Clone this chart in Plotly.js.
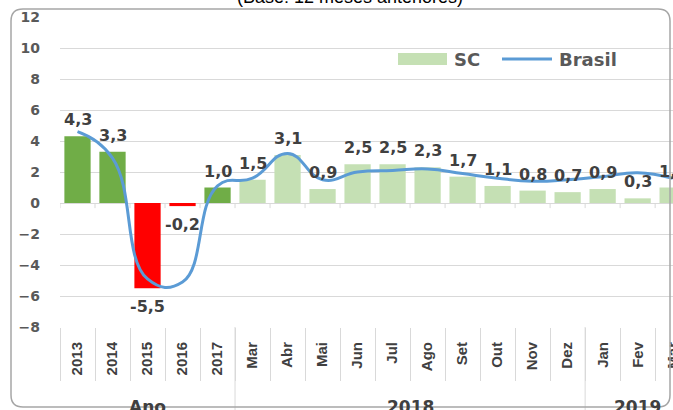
<!DOCTYPE html>
<html>
<head>
<meta charset="utf-8">
<script src="https://cdn.plot.ly/plotly-3.0.1.min.js"></script>
<style>html,body{margin:0;padding:0;background:#fff;}#chart{width:673px;height:410px;}</style>
</head>
<body>
<div id="chart"></div>
<script>
// ---- data ----
const categories = ['2013','2014','2015','2016','2017','Mar','Abr','Mai','Jun','Jul','Ago','Set','Out','Nov','Dez','Jan','Fev','Mar'];
const groups = ['Ano','Ano','Ano','Ano','Ano','2018','2018','2018','2018','2018','2018','2018','2018','2018','2018','2019','2019','2019'];
const scValues = [4.3, 3.3, -5.5, -0.2, 1.0, 1.5, 3.1, 0.9, 2.5, 2.5, 2.3, 1.7, 1.1, 0.8, 0.7, 0.9, 0.3, 1.0];
const brasilValues = [4.6, 2.9, -4.9, -5.1, 1.1, 1.6, 3.2, 1.5, 2.0, 2.1, 2.2, 1.9, 1.6, 1.4, 1.5, 1.7, 1.95, 1.6];
const titleText = '(Base: 12 meses anteriores)';
const seriesNames = ['SC', 'Brasil'];

// ---- derived ----
const idx = categories.map((_, i) => i);
const labels = scValues.map(v => v.toFixed(1).replace('.', ','));
const barColors = scValues.map((v, i) => groups[i] === 'Ano' ? (v < 0 ? '#ff0000' : '#70ad47') : '#c5e0b4');
const boundaries = categories.map((_, i) => i - 0.5).concat([categories.length - 0.5]);

// group spans
const groupSpans = [];
groups.forEach((g, i) => {
  const last = groupSpans[groupSpans.length - 1];
  if (last && last.name === g) last.end = i; else groupSpans.push({name: g, start: i, end: i});
});

const labelFont = {family: 'DejaVu Sans', size: 16, color: '#404040', weight: 'bold'};
const annotations = scValues.map((v, i) => ({
  x: i, y: v, xref: 'x', yref: 'y', text: '<b>' + labels[i] + '</b>', showarrow: false,
  yanchor: v >= 0 ? 'bottom' : 'top', yshift: v >= 0 ? 5 : -7, font: labelFont
}));
groupSpans.forEach(s => annotations.push({
  x: (s.start + s.end) / 2, y: -0.218, xref: 'x', yref: 'paper', yanchor: 'top',
  text: '<b>' + s.name + '</b>', showarrow: false,
  font: {family: 'DejaVu Sans', size: 17, color: '#404040'}
}));
annotations.push({
  x: (350 - 60) / 613, y: (327 - 9) / 310, xref: 'paper', yref: 'paper', xanchor: 'center', yanchor: 'bottom',
  text: titleText, showarrow: false, font: {family: 'Liberation Sans', size: 18, color: '#000'}
});
// legend texts
annotations.push({x: (452 - 60) / 613, y: (327 - 59) / 310, xref: 'paper', yref: 'paper', xanchor: 'left', yanchor: 'middle',
  text: '<b>' + seriesNames[0] + '</b>', showarrow: false, font: {family: 'DejaVu Sans', size: 18, color: '#595959'}});
annotations.push({x: (557 - 60) / 613, y: (327 - 59) / 310, xref: 'paper', yref: 'paper', xanchor: 'left', yanchor: 'middle',
  text: '<b>' + seriesNames[1] + '</b>', showarrow: false, font: {family: 'DejaVu Sans', size: 18, color: '#595959'}});

const shapes = [];
// zero-axis small ticks
boundaries.forEach(b => shapes.push({type: 'line', xref: 'x', yref: 'y', x0: b, x1: b, y0: 0, y1: -0.33, line: {color: '#d9d9d9', width: 1}}));
// group dividers
groupSpans.slice(1).forEach(s => shapes.push({type: 'line', xref: 'x', yref: 'paper', x0: s.start - 0.5, x1: s.start - 0.5, y0: 0, y1: -0.4, line: {color: '#d9d9d9', width: 1}}));
// legend swatches
shapes.push({type: 'rect', xref: 'paper', yref: 'paper', x0: (398 - 60) / 613, x1: (447 - 60) / 613, y0: (327 - 65) / 310, y1: (327 - 53) / 310, fillcolor: '#c5e0b4', line: {width: 0}});
shapes.push({type: 'line', xref: 'paper', yref: 'paper', x0: (502 - 60) / 613, x1: (552 - 60) / 613, y0: (327 - 59) / 310, y1: (327 - 59) / 310, line: {color: '#5b9bd5', width: 3}});
// chart border (rounded)
(function () {
  const px = X => (X - 60) / 613, py = Y => (327 - Y) / 310;
  const L = 11, R = 670, T = 9, B = 407, r = 12;
  const d = `M${px(L + r)},${py(T)} L${px(R - r)},${py(T)} Q${px(R)},${py(T)} ${px(R)},${py(T + r)} L${px(R)},${py(B - r)} Q${px(R)},${py(B)} ${px(R - r)},${py(B)} L${px(L + r)},${py(B)} Q${px(L)},${py(B)} ${px(L)},${py(B - r)} L${px(L)},${py(T + r)} Q${px(L)},${py(T)} ${px(L + r)},${py(T)} Z`;
  shapes.push({type: 'path', xref: 'paper', yref: 'paper', path: d, line: {color: '#a6a6a6', width: 1.5}});
})();

const traces = [
  {type: 'bar', x: idx, y: scValues, name: seriesNames[0], width: 0.75, marker: {color: barColors}, showlegend: false, hoverinfo: 'skip'},
  {type: 'scatter', mode: 'lines', x: idx, y: brasilValues, name: seriesNames[1], line: {color: '#5b9bd5', width: 3, shape: 'spline', smoothing: 1.3}, showlegend: false, hoverinfo: 'skip'}
];

const layout = {
  width: 673, height: 410,
  margin: {l: 60, r: 0, t: 17, b: 83, pad: 0},
  paper_bgcolor: '#fff', plot_bgcolor: '#fff',
  showlegend: false,
  xaxis: {
    range: [-0.5, 17.01], tickmode: 'array', tickvals: idx, ticktext: categories.map(c => '<b>' + c + '</b>'),
    tickangle: -90, ticks: '', showgrid: false, zeroline: false, showline: false,
    ticklabelstandoff: 11, ticklabeloverflow: 'allow',
    tickfont: {family: 'Liberation Sans', size: 15, color: '#404040'},
    minor: {tickmode: 'array', tickvals: boundaries, ticks: 'outside', ticklen: 53, tickcolor: '#d9d9d9', tickwidth: 1, showgrid: false}
  },
  yaxis: {
    range: [-8, 12], dtick: 2, tick0: 0, showgrid: true, gridcolor: '#d9d9d9', gridwidth: 1,
    zeroline: true, zerolinecolor: '#d9d9d9', zerolinewidth: 1, showline: false, ticks: '',
    ticklabelstandoff: 19,
    tickfont: {family: 'DejaVu Sans', size: 14, color: '#595959', weight: 'bold'}
  },
  annotations: annotations,
  shapes: shapes,
  hovermode: false
};

Plotly.newPlot('chart', traces, layout, {staticPlot: true, displayModeBar: false});
</script>
</body>
</html>
